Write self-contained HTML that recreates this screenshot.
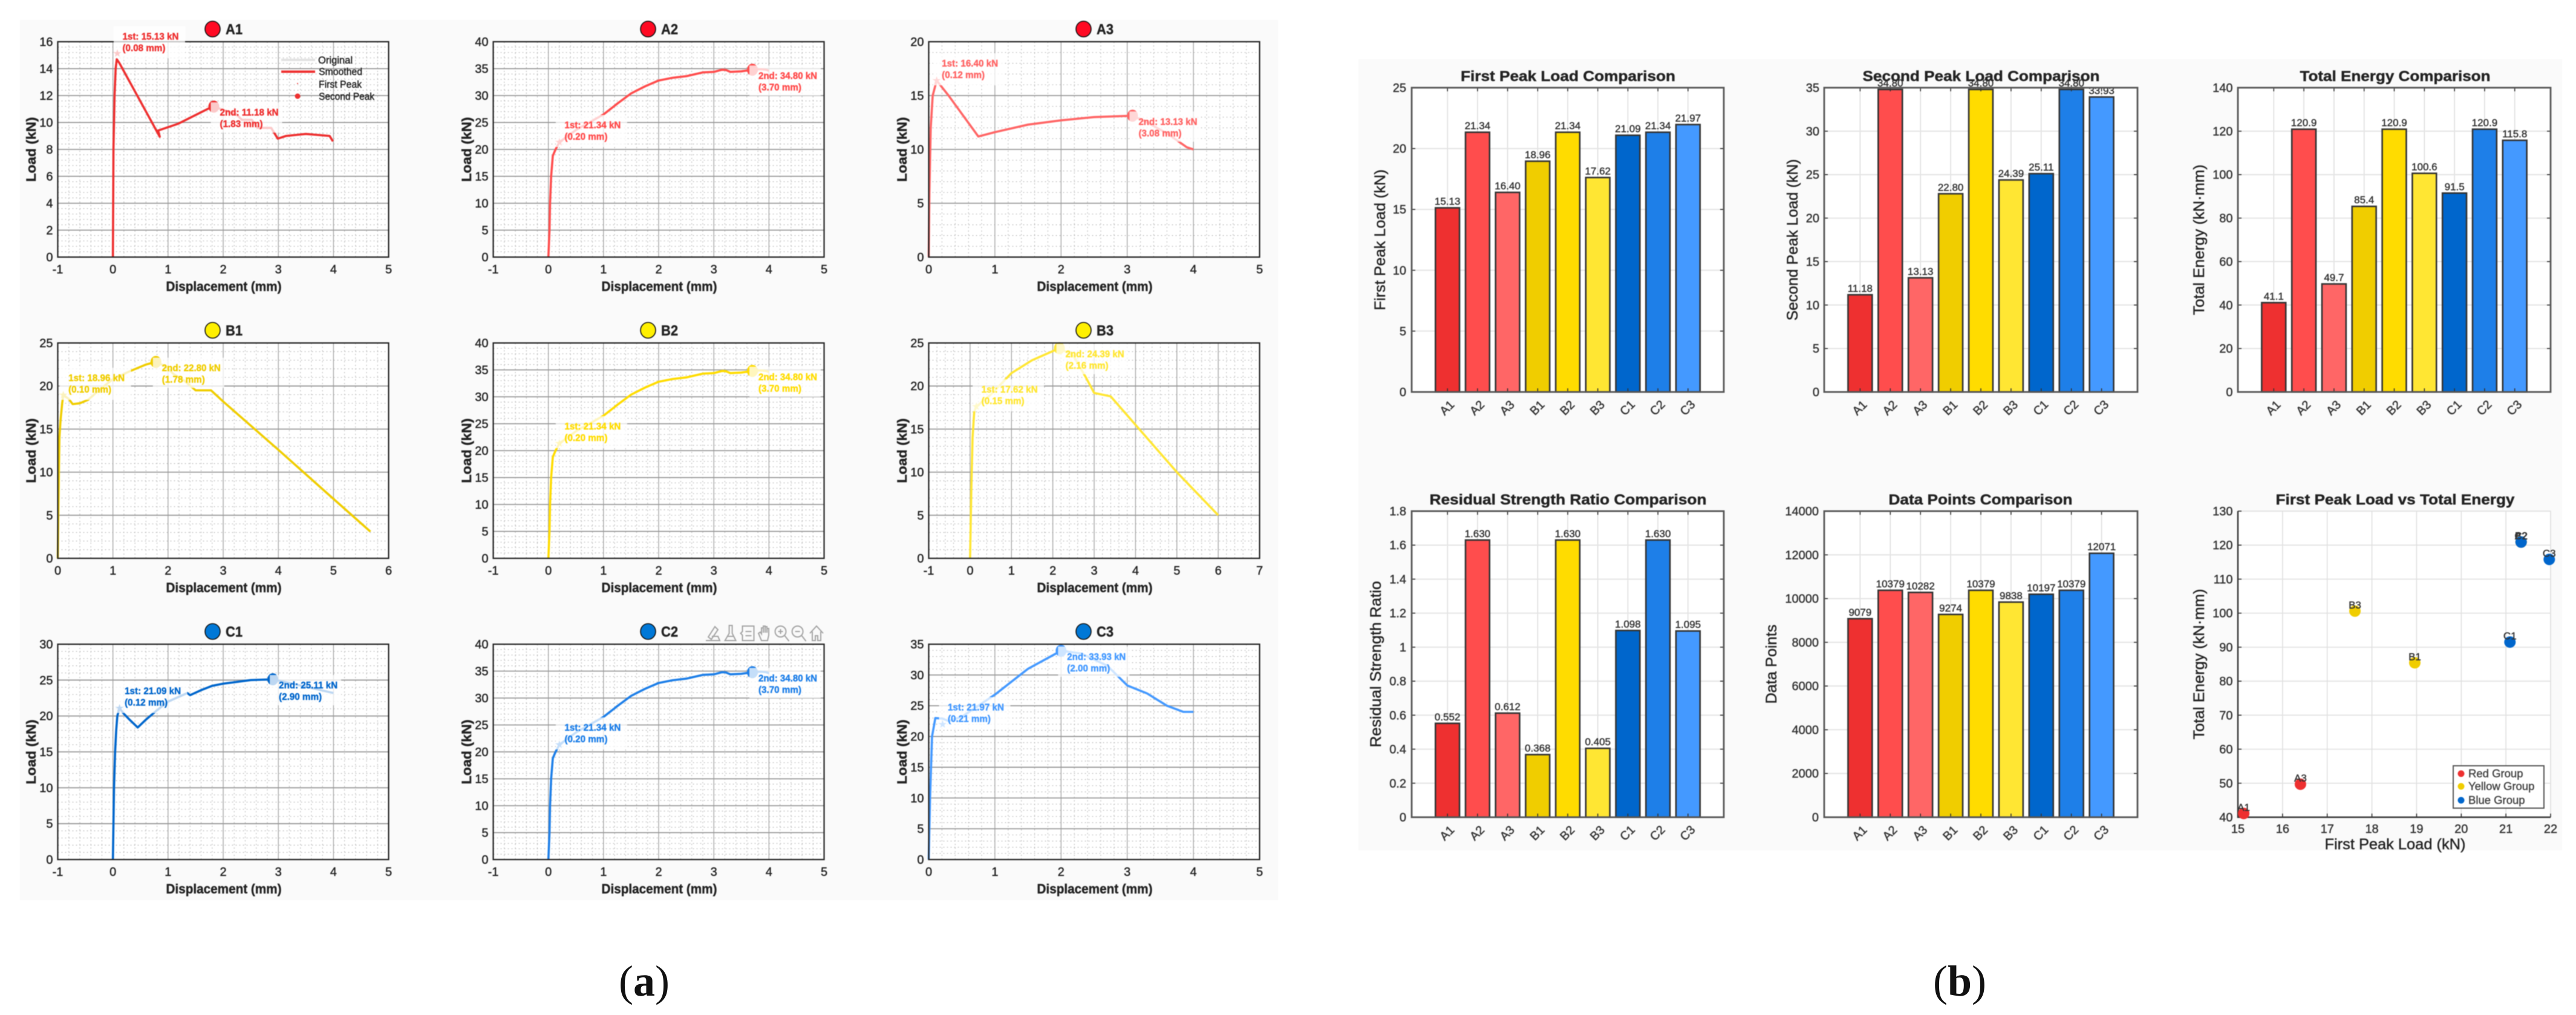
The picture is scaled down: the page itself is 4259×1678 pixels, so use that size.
<!DOCTYPE html>
<html lang="en">
<head>
<meta charset="utf-8">
<title>Load-displacement curves and peak comparison charts</title>
<style>
html,body{margin:0;padding:0;background:#fff;}
svg{display:block;font-family:"Liberation Sans",Arial,sans-serif;}
</style>
</head>
<body>
<svg id="figure" xmlns="http://www.w3.org/2000/svg" width="4259" height="1678" viewBox="0 0 4259 1678">
  <rect x="0" y="0" width="4259" height="1678" fill="#ffffff"/>
  <g id="art" style="filter:blur(0.7px)">
    <rect x="33" y="33" width="2080" height="1455" fill="#fafafa"/>
    <rect x="2246" y="98" width="1990" height="1308" fill="#fafafa"/>
    <g id="load-charts"></g>
    <g id="bar-charts"></g>
    <g id="scatter-chart"></g>

    <g font-size="16.5" fill="#222">
      <line x1="465" y1="99" x2="521" y2="99" stroke="#e2e2e2" stroke-width="4"/>
      <text fill="#222" x="526" y="105" textLength="57" lengthAdjust="spacingAndGlyphs">Original</text>
      <line x1="465" y1="118.5" x2="521" y2="118.5" stroke="#ee3030" stroke-width="4"/>
      <text fill="#222" x="527" y="124" textLength="72" lengthAdjust="spacingAndGlyphs">Smoothed</text>
      <circle cx="492" cy="138" r="1" fill="#ee3030"/>
      <text fill="#222" x="527" y="145" textLength="71" lengthAdjust="spacingAndGlyphs">First Peak</text>
      <circle cx="492" cy="159" r="4.5" fill="#ee3030"/>
      <text fill="#222" x="527" y="165" textLength="92" lengthAdjust="spacingAndGlyphs">Second Peak</text>
    </g>

    <g fill="none" stroke="#a4a4a4" stroke-width="2">
      <g transform="translate(1179,1047)"><path d="M-12 12H11L8 5H-2M-8 6L3-11L8-6L-3 10Z"/></g>
      <g transform="translate(1207.6,1047)"><path d="M-2-13H3V0L9 12H-9L-2 0ZM-5 5H6"/></g>
      <g transform="translate(1236.5,1047)"><path d="M-9-12H10V12H-9V3L-12 0L-9-3ZM-4-3H6M-4 4H6"/></g>
      <g transform="translate(1265,1047)"><path d="M-6 12L-11 0L-8-2L-6 1V-9L-3-9V-1V-12H0V-1V-11H3V-1V-8H6V3L4 12Z"/></g>
      <g transform="translate(1292.5,1047)"><circle cx="-2" cy="-3" r="9"/><path d="M5 4L12 13M-6-3H2M-2-7V1"/></g>
      <g transform="translate(1320.6,1047)"><circle cx="-2" cy="-3" r="9"/><path d="M5 4L12 13M-6-3H2"/></g>
      <g transform="translate(1350,1047)"><path d="M-11 0L0-12L11 0M-7-3V12H-2V4H2V12H7V-3"/></g>
    </g>
  </g>

  <text x="1065" y="1646" text-anchor="middle" font-family="'Liberation Serif',serif" font-size="72" fill="#111">(<tspan font-weight="bold">a</tspan>)</text>
  <text x="3240" y="1646" text-anchor="middle" font-family="'Liberation Serif',serif" font-size="72" fill="#111">(<tspan font-weight="bold">b</tspan>)</text>
</svg>

<script>
// ---------- comparison data ----------
const specimens = ['A1','A2','A3','B1','B2','B3','C1','C2','C3'];
const firstPeakLoad = [15.13,21.34,16.40,18.96,21.34,17.62,21.09,21.34,21.97];
const firstPeakDisp = [0.08,0.20,0.12,0.10,0.20,0.15,0.12,0.20,0.21];
const secondPeakLoad = [11.18,34.80,13.13,22.80,34.80,24.39,25.11,34.80,33.93];
const secondPeakDisp = [1.83,3.70,3.08,1.78,3.70,2.16,2.90,3.70,2.00];
const totalEnergy = [41.1,120.9,49.7,85.4,120.9,100.6,91.5,120.9,115.8];
const residualRatio = [0.552,1.630,0.612,0.368,1.630,0.405,1.098,1.630,1.095];
const dataPoints = [9079,10379,10282,9274,10379,9838,10197,10379,12071];

// ---------- load-displacement curves ----------
const a1Disp = [0,0.01,0.03,0.05,0.07,0.12,0.85,0.82,1.18,1.73,1.83,2.24,2.34,2.52,2.62,2.87,2.99,3.14,3.5,3.93,3.99];
const a1Load = [0,8,12,14,14.7,14.4,8.94,9.4,9.9,11.03,11.18,10.6,10.2,10.2,9.6,9.6,8.8,9.0,9.15,9.0,8.6];
const a1XTicks = [-1,0,1,2,3,4,5];
const a1YTicks = [0,2,4,6,8,10,12,14,16];

const a2Disp = [0,0.02,0.03,0.05,0.08,0.13,0.2,0.5,1,1.25,1.5,1.75,2,2.25,2.5,2.8,3,3.15,3.22,3.3,3.5,3.7,3.85,3.95,4];
const a2Load = [0,5,10,15,18.8,20,21.34,23.6,26.5,28.5,30.4,31.7,32.8,33.3,33.6,34.3,34.4,34.8,34.75,34.4,34.5,34.8,34.9,34.8,34.6];
const a2XTicks = [-1,0,1,2,3,4,5];
const a2YTicks = [0,5,10,15,20,25,30,35,40];

const a3Disp = [0,0.01,0.03,0.06,0.12,0.3,0.75,1,1.5,2,2.5,3.08,3.3,3.6,3.9,4];
const a3Load = [0,6,12,15,16.4,15,11.2,11.6,12.3,12.7,13,13.13,12.5,11.5,10.2,10];
const a3XTicks = [0,1,2,3,4,5];
const a3YTicks = [0,5,10,15,20];

const b1Disp = [0,0.01,0.02,0.03,0.05,0.08,0.1,0.2,0.27,0.4,0.55,0.8,1,1.3,1.6,1.78,1.95,2.1,2.3,2.5,2.78,3,4,5,5.67];
const b1Load = [0,5,10,14,16,18,18.96,18.5,17.9,18,18.4,19.8,20.8,21.7,22.5,22.8,22.3,21.4,20.6,19.5,19.5,18.2,12.6,6.9,3.1];
const b1XTicks = [0,1,2,3,4,5,6];
const b1YTicks = [0,5,10,15,20,25];

const b2Disp = [0,0.02,0.03,0.05,0.08,0.13,0.2,0.5,1,1.25,1.5,1.75,2,2.25,2.5,2.8,3,3.15,3.22,3.3,3.5,3.7,3.85,3.95,4];
const b2Load = [0,5,10,15,18.8,20,21.34,23.6,26.5,28.5,30.4,31.7,32.8,33.3,33.6,34.3,34.4,34.8,34.75,34.4,34.5,34.8,34.9,34.8,34.6];
const b2XTicks = [-1,0,1,2,3,4,5];
const b2YTicks = [0,5,10,15,20,25,30,35,40];

const b3Disp = [0,0.03,0.06,0.1,0.15,0.5,1,1.5,2.16,2.5,2.8,3,3.4,4,5,6];
const b3Load = [0,8,14,17,17.62,19,21.5,23,24.39,23.5,21,19.2,18.8,15.5,10,5];
const b3XTicks = [-1,0,1,2,3,4,5,6,7];
const b3YTicks = [0,5,10,15,20,25];

const c1Disp = [0,0.01,0.02,0.04,0.06,0.08,0.12,0.2,0.3,0.45,0.6,0.8,1,1.35,1.4,1.6,1.8,2,2.5,2.9,3.2,3.6,4];
const c1Load = [0,5,10,15,18,20,21.09,20.3,19.5,18.4,19.5,20.8,22,23.2,22.9,23.6,24.2,24.5,25,25.11,24.6,23.9,23.2];
const c1XTicks = [-1,0,1,2,3,4,5];
const c1YTicks = [0,5,10,15,20,25,30];

const c2Disp = [0,0.02,0.03,0.05,0.08,0.13,0.2,0.5,1,1.25,1.5,1.75,2,2.25,2.5,2.8,3,3.15,3.22,3.3,3.5,3.7,3.85,3.95,4];
const c2Load = [0,5,10,15,18.8,20,21.34,23.6,26.5,28.5,30.4,31.7,32.8,33.3,33.6,34.3,34.4,34.8,34.75,34.4,34.5,34.8,34.9,34.8,34.6];
const c2XTicks = [-1,0,1,2,3,4,5];
const c2YTicks = [0,5,10,15,20,25,30,35,40];

const c3Disp = [0,0.02,0.05,0.1,0.21,0.3,0.5,1,1.5,2,2.3,2.7,3,3.3,3.6,3.85,4];
const c3Load = [0,10,20,23,22.9,22.5,23.2,26.8,31,33.93,33.5,31.5,28.3,27,25,24,24];
const c3XTicks = [0,1,2,3,4,5];
const c3YTicks = [0,5,10,15,20,25,30,35];

// ---------- bar and scatter axes ----------
const firstPeakTicks = [0,5,10,15,20,25];
const secondPeakTicks = [0,5,10,15,20,25,30,35];
const energyTicks = [0,20,40,60,80,100,120,140];
const residualTicks = [0,0.2,0.4,0.6,0.8,1,1.2,1.4,1.6,1.8];
const pointsTicks = [0,2000,4000,6000,8000,10000,12000,14000];
const scatterXTicks = [15,16,17,18,19,20,21,22];
const scatterYTicks = [40,50,60,70,80,90,100,110,120,130];

// ---------- styling tables ----------
const specimenColors = ['#ee3030','#ff4d4d','#ff6666','#f0cd00','#ffdc00','#ffe633','#0066cc','#1e7fe8','#4499ff'];
const titleDotColors = ['#ff0a23','#ff0a23','#ff0a23','#fff000','#fff000','#fff000','#0078d7','#0078d7','#0078d7'];
const scatterColors = ['#ee3030','#ee3030','#ee3030','#f0cd00','#f0cd00','#f0cd00','#0066cc','#0066cc','#0066cc'];
const loadSeries = [
  [a1Disp,a1Load,a1XTicks,a1YTicks],[a2Disp,a2Load,a2XTicks,a2YTicks],[a3Disp,a3Load,a3XTicks,a3YTicks],
  [b1Disp,b1Load,b1XTicks,b1YTicks],[b2Disp,b2Load,b2XTicks,b2YTicks],[b3Disp,b3Load,b3XTicks,b3YTicks],
  [c1Disp,c1Load,c1XTicks,c1YTicks],[c2Disp,c2Load,c2XTicks,c2YTicks],[c3Disp,c3Load,c3XTicks,c3YTicks]
];

const NS = 'http://www.w3.org/2000/svg';
function mk(parent, tag, attrs) {
  const el = document.createElementNS(NS, tag);
  for (const k in attrs) el.setAttribute(k, attrs[k]);
  parent.appendChild(el);
  return el;
}
function scale(d0, d1, r0, r1) {
  return function (v) { return r0 + (v - d0) / (d1 - d0) * (r1 - r0); };
}
function label(parent, str, attrs) {
  const t = mk(parent, 'text', attrs);
  t.textContent = str;
  return t;
}

// ---------- load-displacement subplots ----------
const colLefts = [95.5, 815.5, 1535.5];
const rowTops = [69, 567, 1065];
const plotW = 547, plotH = 356;
const loadRoot = document.getElementById('load-charts');

specimens.forEach(function (name, i) {
  const left = colLefts[i % 3], top = rowTops[Math.floor(i / 3)];
  const right = left + plotW, bottom = top + plotH;
  const disp = loadSeries[i][0], load = loadSeries[i][1], xt = loadSeries[i][2], yt = loadSeries[i][3];
  const color = specimenColors[i];
  const x = scale(xt[0], xt[xt.length - 1], left, right);
  const y = scale(yt[0], yt[yt.length - 1], bottom, top);

  const g = mk(loadRoot, 'g', {});
  
  

  const bg = mk(g, 'rect', {x: left, y: top, width: plotW, height: plotH, fill: '#ffffff'});
  
  

  const minor = mk(g, 'g', {stroke: '#bdbdbd', 'stroke-width': 1.2, 'stroke-dasharray': '2 4'});
  
  
  for (let a = 0; a < xt.length - 1; a++) {
    for (let s = 1; s < 5; s++) {
      const px = x(xt[a] + (xt[a + 1] - xt[a]) * s / 5);
      const l = mk(minor, 'line', {x1: px, x2: px, y1: top, y2: bottom});
      
      
    }
  }
  for (let a = 0; a < yt.length - 1; a++) {
    for (let s = 1; s < 5; s++) {
      const py = y(yt[a] + (yt[a + 1] - yt[a]) * s / 5);
      const l = mk(minor, 'line', {x1: left, x2: right, y1: py, y2: py});
      
      
    }
  }

  const major = mk(g, 'g', {});
  
  
  xt.forEach(function (v) {
    const l = mk(major, 'line', {x1: x(v), x2: x(v), y1: top, y2: bottom, stroke: '#a8a8a8', 'stroke-width': 1.4});
    
    
    const t = label(g, String(v), {x: x(v), y: bottom + 27, 'text-anchor': 'middle', 'font-size': 20, fill: '#222'});
    
    
  });
  yt.forEach(function (v) {
    const l = mk(major, 'line', {x1: left, x2: right, y1: y(v), y2: y(v), stroke: '#9a9a9a', 'stroke-width': 1.8});
    
    
    const t = label(g, String(v), {x: left - 8, y: y(v) + 7, 'text-anchor': 'end', 'font-size': 20, fill: '#222'});
    
    
  });

  const pts = disp.map(function (d, k) { return x(d) + ',' + y(load[k]); }).join(' ');
  const curve = mk(g, 'polyline', {points: pts, fill: 'none', stroke: color, 'stroke-width': 3.6, 'stroke-linejoin': 'round'});
  
  

  const p1x = x(firstPeakDisp[i]), p1y = y(firstPeakLoad[i]);
  const p2x = x(secondPeakDisp[i]), p2y = y(secondPeakLoad[i]);

  let star = '';
  for (let k = 0; k < 10; k++) {
    const r = k % 2 ? 2.8 : 7, ang = -Math.PI / 2 + k * Math.PI / 5;
    star += (p1x + r * Math.cos(ang)) + ',' + (p1y + r * Math.sin(ang)) + ' ';
  }
  const sm = mk(g, 'polygon', {points: star, fill: color});
  
  

  const cm = mk(g, 'ellipse', {cx: p2x, cy: p2y, rx: 9, ry: 10, fill: color});
  
  

  const frame = mk(g, 'rect', {x: left, y: top, width: plotW, height: plotH, fill: 'none', stroke: '#222', 'stroke-width': 2.2});
  
  

  const box1 = mk(g, 'rect', {x: p1x - 6, y: p1y - 45, width: 118, height: 53, fill: '#ffffff', 'fill-opacity': 0.74});
  
  
  const box2 = mk(g, 'rect', {x: p2x - 5, y: p2y - 7, width: 118, height: 50, fill: '#ffffff', 'fill-opacity': 0.74});
  
  

  const lab = {fill: color, 'font-size': 16, 'font-weight': 'bold', lengthAdjust: 'spacingAndGlyphs'};
  const t1 = label(g, '1st: ' + firstPeakLoad[i].toFixed(2) + ' kN', Object.assign({x: p1x + 8.5, y: p1y - 23, textLength: 93}, lab));
  
  
  const t2 = label(g, '(' + firstPeakDisp[i].toFixed(2) + ' mm)', Object.assign({x: p1x + 8.5, y: p1y - 4, textLength: 71}, lab));
  
  
  const t3 = label(g, '2nd: ' + secondPeakLoad[i].toFixed(2) + ' kN', Object.assign({x: p2x + 10, y: p2y + 15, textLength: 97}, lab));
  
  
  const t4 = label(g, '(' + secondPeakDisp[i].toFixed(2) + ' mm)', Object.assign({x: p2x + 10, y: p2y + 34, textLength: 71}, lab));
  
  

  const cx = (left + right) / 2;
  const dot = mk(g, 'ellipse', {cx: cx - 17.5, cy: top - 21, rx: 12.5, ry: 13, fill: titleDotColors[i], stroke: '#111', 'stroke-width': 1.6});
  
  
  const tt = label(g, name, {x: cx + 4, y: top - 12.5, 'font-size': 24, 'font-weight': 'bold', fill: '#222', textLength: 28, lengthAdjust: 'spacingAndGlyphs'});
  
  

  const xl = label(g, 'Displacement (mm)', {x: cx + 1, y: bottom + 56, 'text-anchor': 'middle', 'font-size': 22, 'font-weight': 'bold', fill: '#222', textLength: 191, lengthAdjust: 'spacingAndGlyphs'});
  
  
  const ylx = left - 36.5, yly = (top + bottom) / 2;
  const yl = label(g, 'Load (kN)', {x: ylx, y: yly, transform: 'rotate(-90 ' + ylx + ' ' + yly + ')', 'text-anchor': 'middle', 'font-size': 22, 'font-weight': 'bold', fill: '#222', textLength: 107, lengthAdjust: 'spacingAndGlyphs'});
  
  
});

// ---------- bar charts ----------
const barRoot = document.getElementById('bar-charts');
function drawBars(o) {
  const g = mk(barRoot, 'g', {});
  
  

  const bg = mk(g, 'rect', {x: o.left, y: o.top, width: o.right - o.left, height: o.bottom - o.top, fill: '#ffffff'});
  
  

  const x = scale(-0.19, 10.19, o.left, o.right);
  const y = scale(o.ticks[0], o.ticks[o.ticks.length - 1], o.bottom, o.top);
  const barW = x(0.8) - x(0);

  specimens.forEach(function (n, i) {
    const l = mk(g, 'line', {x1: x(i + 1), x2: x(i + 1), y1: o.top, y2: o.bottom, stroke: '#dedede', 'stroke-width': 1.6});
    
    
  });
  o.ticks.forEach(function (v) {
    const l = mk(g, 'line', {x1: o.left, x2: o.right, y1: y(v), y2: y(v), stroke: '#e4e4e4', 'stroke-width': 2});
    
    
    const t = label(g, String(v), {x: o.tickRight, y: y(v) + 7, 'text-anchor': 'end', 'font-size': 20, fill: '#333'});
    
    
    const a = mk(g, 'line', {x1: o.left, x2: o.left + 6, y1: y(v), y2: y(v), stroke: '#333', 'stroke-width': 1.6});
    
    
    const b = mk(g, 'line', {x1: o.right - 6, x2: o.right, y1: y(v), y2: y(v), stroke: '#333', 'stroke-width': 1.6});
    
    
  });

  o.values.forEach(function (v, i) {
    const cx = x(i + 1);
    const bar = mk(g, 'rect', {x: cx - barW / 2, y: y(v), width: barW, height: y(0) - y(v), fill: specimenColors[i], stroke: '#333', 'stroke-width': 2.6});
    
    
    const vt = label(g, v.toFixed(o.decimals), {x: cx, y: y(v) - 5, 'text-anchor': 'middle', 'font-size': 17, fill: '#333'});
    
    
    const ty = o.bottom + 26, tx = cx - 1;
    const ct = label(g, specimens[i], {x: tx, y: ty + 7, transform: 'rotate(-45 ' + tx + ' ' + ty + ')', 'text-anchor': 'middle', 'font-size': 20, fill: '#333'});
    
    
    const tk = mk(g, 'line', {x1: cx, x2: cx, y1: o.top, y2: o.top + 6, stroke: '#333', 'stroke-width': 1.6});
    
    
    const tk2 = mk(g, 'line', {x1: cx, x2: cx, y1: o.bottom - 6, y2: o.bottom, stroke: '#333', 'stroke-width': 1.6});
    
    
  });

  const frame = mk(g, 'rect', {x: o.left, y: o.top, width: o.right - o.left, height: o.bottom - o.top, fill: 'none', stroke: '#555', 'stroke-width': 2.8});
  
  

  const title = label(g, o.title, {x: o.titleX, y: o.top - 11, 'text-anchor': 'middle', 'font-size': 24, 'font-weight': 'bold', fill: '#222', textLength: o.titleW, lengthAdjust: 'spacingAndGlyphs'});
  
  
  const yc = (o.top + o.bottom) / 2;
  const yl = label(g, o.ylabel, {x: o.labelX, y: yc, transform: 'rotate(-90 ' + o.labelX + ' ' + yc + ')', 'text-anchor': 'middle', 'font-size': 25, fill: '#222', textLength: o.labelLen, lengthAdjust: 'spacingAndGlyphs'});
  
  
}

drawBars({slug: 'first-peak-load', title: 'First Peak Load Comparison', ylabel: 'First Peak Load (kN)', values: firstPeakLoad, ticks: firstPeakTicks, decimals: 2,
  left: 2334, right: 2850, top: 145, bottom: 648, tickRight: 2325, titleX: 2592.5, titleW: 355, labelX: 2290, labelLen: 233});
drawBars({slug: 'second-peak-load', title: 'Second Peak Load Comparison', ylabel: 'Second Peak Load (kN)', values: secondPeakLoad, ticks: secondPeakTicks, decimals: 2,
  left: 3016, right: 3534, top: 145, bottom: 648, tickRight: 3008, titleX: 3275.5, titleW: 392, labelX: 2972, labelLen: 267});
drawBars({slug: 'total-energy', title: 'Total Energy Comparison', ylabel: 'Total Energy (kN\u00b7mm)', values: totalEnergy, ticks: energyTicks, decimals: 1,
  left: 3700, right: 4217, top: 145, bottom: 648, tickRight: 3691.5, titleX: 3960, titleW: 315, labelX: 3644, labelLen: 249});
drawBars({slug: 'residual-strength-ratio', title: 'Residual Strength Ratio Comparison', ylabel: 'Residual Strength Ratio', values: residualRatio, ticks: residualTicks, decimals: 3,
  left: 2334, right: 2850, top: 845, bottom: 1351, tickRight: 2325, titleX: 2592.5, titleW: 458, labelX: 2283, labelLen: 275});
drawBars({slug: 'data-points', title: 'Data Points Comparison', ylabel: 'Data Points', values: dataPoints, ticks: pointsTicks, decimals: 0,
  left: 3016, right: 3534, top: 845, bottom: 1351, tickRight: 3007, titleX: 3274.5, titleW: 304, labelX: 2937, labelLen: 131});

// ---------- scatter ----------
(function () {
  const g = document.getElementById('scatter-chart');
  const left = 3700, right = 4217, top = 845, bottom = 1351;
  const x = scale(scatterXTicks[0], scatterXTicks[scatterXTicks.length - 1], left, right);
  const y = scale(scatterYTicks[0], scatterYTicks[scatterYTicks.length - 1], bottom, top);

  const bg = mk(g, 'rect', {x: left, y: top, width: right - left, height: bottom - top, fill: '#ffffff', stroke: '#e2e2e2', 'stroke-width': 1.5});
  
  

  scatterXTicks.forEach(function (v) {
    const l = mk(g, 'line', {x1: x(v), x2: x(v), y1: top, y2: bottom, stroke: '#e0e0e0', 'stroke-width': 1.6});
    
    
    const k = mk(g, 'line', {x1: x(v), x2: x(v), y1: bottom - 6, y2: bottom, stroke: '#333', 'stroke-width': 1.6});
    
    
    const t = label(g, String(v), {x: x(v), y: bottom + 26, 'text-anchor': 'middle', 'font-size': 20, fill: '#333'});
    
    
  });
  scatterYTicks.forEach(function (v) {
    const l = mk(g, 'line', {x1: left, x2: right, y1: y(v), y2: y(v), stroke: '#e0e0e0', 'stroke-width': 1.6});
    
    
    const k = mk(g, 'line', {x1: left, x2: left + 6, y1: y(v), y2: y(v), stroke: '#333', 'stroke-width': 1.6});
    
    
    const t = label(g, String(v), {x: 3691.5, y: y(v) + 7, 'text-anchor': 'end', 'font-size': 20, fill: '#333'});
    
    
  });

  const ax = mk(g, 'path', {d: 'M' + left + ' ' + top + 'V' + bottom + 'H' + right, fill: 'none', stroke: '#333', 'stroke-width': 2.4});
  
  

  specimens.forEach(function (n, i) {
    const px = x(firstPeakLoad[i]), py = y(totalEnergy[i]);
    const c = mk(g, 'circle', {cx: px, cy: py, r: 9.5, fill: scatterColors[i]});
    
    
    const t = label(g, n, {x: px, y: py - 4.5, 'text-anchor': 'middle', 'font-size': 17, fill: '#333'});
    
    
  });

  const title = label(g, 'First Peak Load vs Total Energy', {x: 3960, y: 834, 'text-anchor': 'middle', 'font-size': 24, 'font-weight': 'bold', fill: '#222', textLength: 395, lengthAdjust: 'spacingAndGlyphs'});
  
  
  const xl = label(g, 'First Peak Load (kN)', {x: 3960, y: 1404, 'text-anchor': 'middle', 'font-size': 25, fill: '#222', textLength: 233, lengthAdjust: 'spacingAndGlyphs'});
  
  
  const yl = label(g, 'Total Energy (kN\u00b7mm)', {x: 3644, y: 1098, transform: 'rotate(-90 3644 1098)', 'text-anchor': 'middle', 'font-size': 25, fill: '#222', textLength: 249, lengthAdjust: 'spacingAndGlyphs'});
  
  

  const lg = mk(g, 'g', {});
  
  
  const box = mk(lg, 'rect', {x: 4056, y: 1266, width: 150, height: 70, fill: '#ffffff', stroke: '#555', 'stroke-width': 2});
  
  
  ['Red Group', 'Yellow Group', 'Blue Group'].forEach(function (s, k) {
    const ly = [1279, 1300, 1323][k];
    const d = mk(lg, 'circle', {cx: 4069, cy: ly, r: 5.5, fill: ['#ee3030', '#f0cd00', '#0066cc'][k]});
    
    
    const t = label(lg, s, {x: 4081, y: ly + 6, 'font-size': 18.5, fill: '#444'});
    
    
  });
})();

// Thicken all chart text slightly: the reference is a blurred upscale with heavier strokes.
document.querySelectorAll('#art text').forEach(function (t) {
  t.setAttribute('stroke', t.getAttribute('fill') || '#222');
  t.setAttribute('stroke-width', '0.45');
});
</script>
</body>
</html>
